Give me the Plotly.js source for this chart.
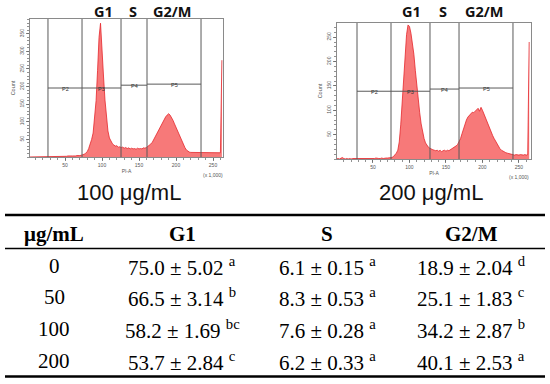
<!DOCTYPE html>
<html><head><meta charset="utf-8">
<script src="https://cdn.plot.ly/plotly-3.0.1.min.js"></script>
<style>html,body{margin:0;padding:0;background:#fff}#chart{width:550px;height:384px}</style>
</head><body><div id="chart"></div>
<script>
// ---------- data ----------
const binWidth = 2; // PI-A (x1,000) per bin, bins start at 0
const counts100 = [
  0,0,1,0,1,1,0,1,1,0,
  1,1,1,1,2,1,1,2,1,2,
  1,2,2,1,2,2,2,3,2,3,
  3,2,3,4,3,4,5,6,8,11,
  15,24,36,50,68,105,160,245,340,380,
  318,230,162,108,74,54,44,38,34,31,
  32,28,29,27,28,25,27,24,26,23,
  25,23,24,22,25,23,24,23,26,25,
  27,30,33,37,42,50,58,66,75,84,
  94,102,108,114,119,123,119,113,104,94,
  84,72,62,52,44,35,27,20,16,14,
  13,13,12,12,11,12,11,12,11,11,
  12,11,11,12,11,11,12,11,12,11,
  12,275
];
const counts200 = [
  0,1,0,1,3,1,0,1,0,1,
  0,1,1,0,1,1,0,1,1,1,
  1,1,0,1,1,1,1,2,1,1,
  1,2,1,2,2,2,2,3,3,5,
  8,12,18,35,70,120,175,220,255,275,
  272,258,238,215,182,150,120,95,72,55,
  42,33,27,24,22,20,19,18,17,18,
  16,18,15,17,18,16,18,17,19,20,
  22,24,27,30,35,42,52,62,72,80,
  86,90,94,96,95,98,100,104,98,106,
  100,92,85,78,70,62,54,48,42,36,
  30,25,21,18,16,14,13,12,11,10,
  9,9,8,9,8,8,9,8,8,9,
  8,9,240
];
const gates100 = [27, 73, 125.7, 160.8, 233.8];
const gates200 = [28.1, 74.7, 128.1, 167.9, 241.8];
const gateLabels = ['P2', 'P3', 'P4', 'P5'];
const gateLevels100 = [196, 196, 204, 207];
const gateLevels200 = [139, 139, 143.5, 145.6];
const xTicks = [50, 100, 150, 200, 250];
const yTicks100 = [50, 100, 150, 200, 250, 300, 350];
const yTicks200 = [50, 100, 150, 200, 250];
const phaseLabels = ['G1', 'S', 'G2/M'];
const panelLabels = ['100 μg/mL', '200 μg/mL'];

const tableHeader = ['μg/mL', 'G1', 'S', 'G2/M'];
const doses = ['0', '50', '100', '200'];
const g1Mean = [75.0, 66.5, 58.2, 53.7];
const g1Sd = [5.02, 3.14, 1.69, 2.84];
const g1Sig = ['a', 'b', 'bc', 'c'];
const sMean = [6.1, 8.3, 7.6, 6.2];
const sSd = [0.15, 0.53, 0.28, 0.33];
const sSig = ['a', 'a', 'a', 'a'];
const g2Mean = [18.9, 25.1, 34.2, 40.1];
const g2Sd = [2.04, 1.83, 2.87, 2.53];
const g2Sig = ['d', 'c', 'b', 'a'];

// ---------- helpers ----------
const W = 550, H = 384;
const px = v => v / W;
const py = v => 1 - v / H;
const binsFor = arr => arr.map((_, i) => i * binWidth);

const fillCol = 'rgba(246,110,110,0.92)';
const edgeCol = '#e4262b';
const gateCol = '#5a5a5a';
const axCol = '#8a8a8a';

const traces = [
  {x: binsFor(counts100), y: counts100, type: 'scatter', mode: 'lines', fill: 'tozeroy',
   fillcolor: fillCol, line: {color: edgeCol, width: 0.8}, xaxis: 'x', yaxis: 'y', hoverinfo: 'skip'},
  {x: binsFor(counts200), y: counts200, type: 'scatter', mode: 'lines', fill: 'tozeroy',
   fillcolor: fillCol, line: {color: edgeCol, width: 0.8}, xaxis: 'x2', yaxis: 'y2', hoverinfo: 'skip'}
];

function xAxis(domain, range, anchor) {
  return {domain, range, anchor, tickvals: xTicks, ticks: 'outside', ticklen: 3, tickwidth: 0.8,
    tickcolor: '#666', tickfont: {size: 5, color: '#555', family: 'Liberation Sans, Arial'},
    showline: true, linecolor: axCol, linewidth: 1, mirror: true, showgrid: false, zeroline: false,
    minor: {dtick: 10, tick0: 0, ticks: 'outside', ticklen: 2, tickcolor: '#777', showgrid: false},
    title: {text: 'PI-A', font: {size: 5, color: '#555', family: 'Liberation Sans, Arial'}, standoff: 2}};
}
function yAxis(domain, range, anchor, tv) {
  return {domain, range, anchor, tickvals: tv, tickangle: -90, ticks: 'outside', ticklen: 3, tickwidth: 0.8,
    tickcolor: '#666', tickfont: {size: 5, color: '#555', family: 'Liberation Sans, Arial'},
    showline: true, linecolor: axCol, linewidth: 1, mirror: true, showgrid: false, zeroline: false,
    minor: {dtick: 10, tick0: 0, ticks: 'outside', ticklen: 2, tickcolor: '#777', showgrid: false},
    title: {text: 'Count', font: {size: 5.5, color: '#555', family: 'Liberation Sans, Arial'}, standoff: 3}};
}

const shapes = [];
const annotations = [];

function addGates(gates, levels, xr, yr) {
  gates.forEach(g => shapes.push({type: 'line', xref: xr, yref: yr + ' domain', x0: g, x1: g, y0: 0, y1: 1,
    line: {color: gateCol, width: 1}}));
  levels.forEach((lv, i) => {
    shapes.push({type: 'line', xref: xr, yref: yr, x0: gates[i], x1: gates[i + 1], y0: lv, y1: lv,
      line: {color: gateCol, width: 1}});
    annotations.push({xref: xr, yref: yr, x: (gates[i] + gates[i + 1]) / 2, y: lv, text: gateLabels[i],
      showarrow: false, yanchor: 'middle', yshift: -1,
      font: {size: 5.5, color: '#333', family: 'Liberation Sans, Arial'}});
  });
}
addGates(gates100, gateLevels100, 'x', 'y');
addGates(gates200, gateLevels200, 'x2', 'y2');

// (x 1,000) labels
[['x', 'y'], ['x2', 'y2']].forEach(([xr, yr]) => annotations.push({xref: xr, yref: yr + ' domain',
  x: 250, y: 0, yanchor: 'top', yshift: -13, text: '(x 1,000)', showarrow: false,
  font: {size: 5, color: '#555', family: 'Liberation Sans, Arial'}}));

// phase labels above panels
const phasePx = [[103, 133, 172], [411, 443, 484]];
phasePx.forEach(row => row.forEach((x, i) => annotations.push({xref: 'paper', yref: 'paper',
  x: px(x), y: py(11), text: '<b>' + phaseLabels[i] + '</b>', showarrow: false,
  xanchor: 'center', yanchor: 'middle',
  font: {size: 14.5, color: '#111', family: 'Open Sans, Liberation Sans, Arial'}})));

// panel labels
[129, 431].forEach((x, i) => annotations.push({xref: 'paper', yref: 'paper', x: px(x), y: py(192),
  text: panelLabels[i], showarrow: false, xanchor: 'center', yanchor: 'middle',
  font: {size: 22, color: '#111', family: 'Liberation Sans, Arial'}}));

// table
const serif = 'Liberation Serif, Times New Roman, serif';
const colX = [54, 182, 327, 471];
const headerY = 234;
const rowY = [266, 297, 329, 361];
tableHeader.forEach((t, i) => annotations.push({xref: 'paper', yref: 'paper', x: px(colX[i]), y: py(headerY),
  text: '<b>' + t + '</b>', showarrow: false, xanchor: 'center', yanchor: 'middle',
  font: {size: 21, color: '#000', family: serif}}));
const cell = (m, sd, sig) => m.toFixed(1) + ' ± ' + sd.toFixed(2) + ' <sup>' + sig + '</sup>';
doses.forEach((d, r) => {
  const texts = [d, cell(g1Mean[r], g1Sd[r], g1Sig[r]), cell(sMean[r], sSd[r], sSig[r]), cell(g2Mean[r], g2Sd[r], g2Sig[r])];
  texts.forEach((t, c) => annotations.push({xref: 'paper', yref: 'paper', x: px(colX[c]), y: py(rowY[r]),
    text: t, showarrow: false, xanchor: 'center', yanchor: 'middle',
    font: {size: 21, color: '#000', family: serif}}));
});
shapes.push({type: 'line', xref: 'paper', yref: 'paper', x0: px(5), x1: px(545), y0: py(215), y1: py(215), line: {color: '#000', width: 2.6}});
shapes.push({type: 'line', xref: 'paper', yref: 'paper', x0: px(5), x1: px(545), y0: py(248.5), y1: py(248.5), line: {color: '#000', width: 1.4}});
shapes.push({type: 'line', xref: 'paper', yref: 'paper', x0: px(5), x1: px(545), y0: py(376.5), y1: py(376.5), line: {color: '#000', width: 2.6}});

const layout = {
  width: W, height: H, margin: {l: 0, r: 0, t: 0, b: 0},
  paper_bgcolor: '#fff', plot_bgcolor: '#fff', showlegend: false,
  xaxis: xAxis([px(30), px(223)], [2.7, 263.5], 'y'),
  yaxis: yAxis([py(157), py(19)], [0, 392], 'x', yTicks100),
  xaxis2: xAxis([px(337), px(531)], [0.7, 266.5], 'y2'),
  yaxis2: yAxis([py(159), py(23)], [0, 279], 'x2', yTicks200),
  shapes, annotations
};
Plotly.newPlot('chart', traces, layout, {staticPlot: true, displayModeBar: false});
</script></body></html>
